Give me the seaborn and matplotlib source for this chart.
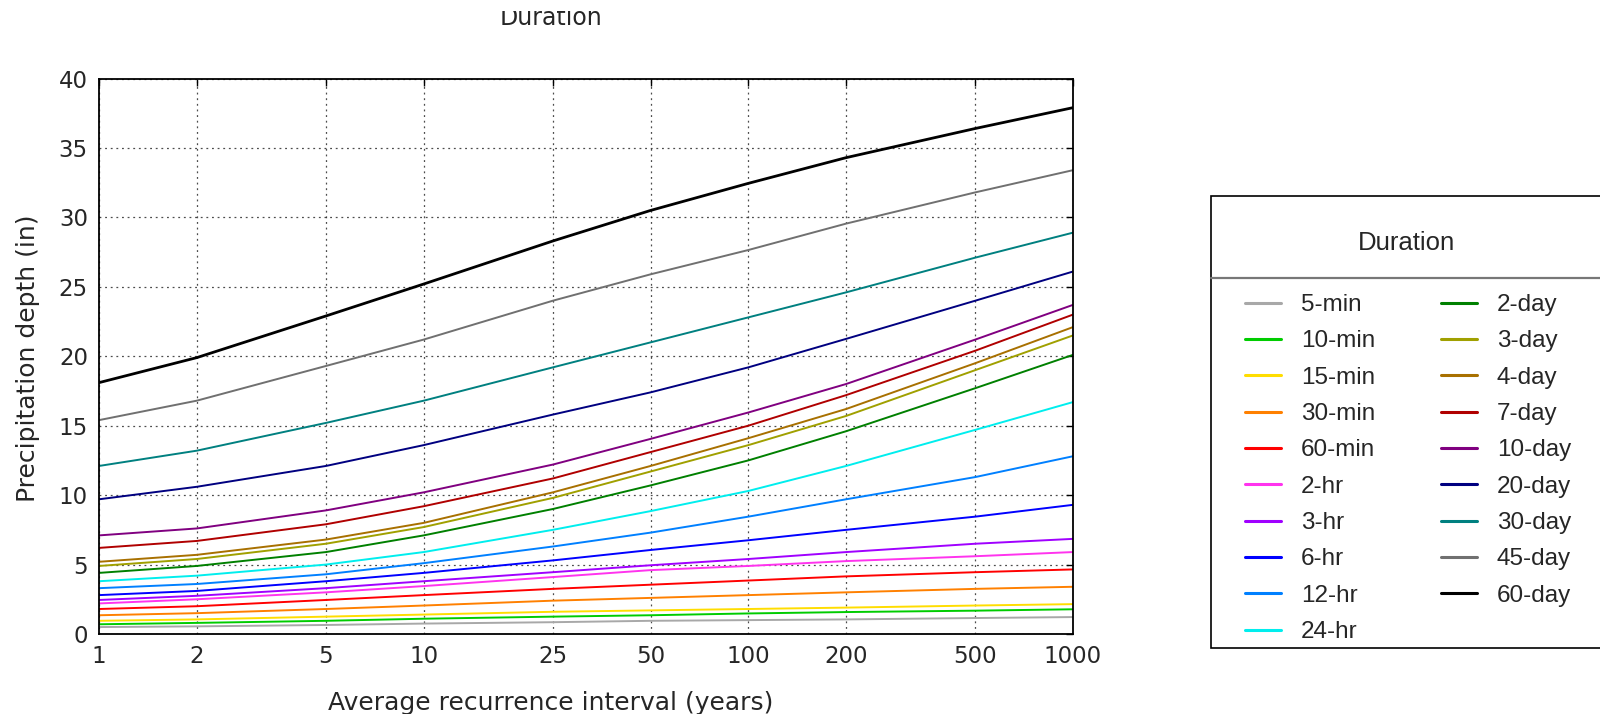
import numpy as np
import pandas as pd
import matplotlib
matplotlib.use("Agg")
import matplotlib.pyplot as plt
import seaborn as sns
from matplotlib.lines import Line2D
from matplotlib.patches import Rectangle
import matplotlib.ticker as ticker

# average recurrence interval (years)
ari = [1, 2, 5, 10, 25, 50, 100, 200, 500, 1000]
ari_labels = ["1", "2", "5", "10", "25", "50", "100", "200", "500", "1000"]

# precipitation depth (in) per duration
d_5min = [0.50, 0.55, 0.65, 0.75, 0.85, 0.95, 1.00, 1.05, 1.15, 1.22]
d_10min = [0.70, 0.80, 0.95, 1.10, 1.25, 1.35, 1.48, 1.58, 1.68, 1.78]
d_15min = [0.95, 1.05, 1.25, 1.40, 1.60, 1.70, 1.80, 1.90, 2.05, 2.15]
d_30min = [1.35, 1.50, 1.80, 2.05, 2.40, 2.60, 2.80, 3.00, 3.25, 3.40]
d_60min = [1.80, 2.00, 2.45, 2.80, 3.25, 3.55, 3.85, 4.15, 4.45, 4.65]
d_2hr = [2.20, 2.50, 3.00, 3.45, 4.10, 4.60, 4.90, 5.25, 5.60, 5.90]
d_3hr = [2.45, 2.75, 3.30, 3.80, 4.45, 4.95, 5.40, 5.90, 6.50, 6.85]
d_6hr = [2.80, 3.10, 3.80, 4.40, 5.30, 6.05, 6.75, 7.50, 8.45, 9.30]
d_12hr = [3.30, 3.60, 4.30, 5.10, 6.30, 7.30, 8.45, 9.70, 11.3, 12.8]
d_24hr = [3.80, 4.20, 5.00, 5.90, 7.50, 8.85, 10.3, 12.1, 14.7, 16.7]
d_2day = [4.40, 4.90, 5.90, 7.10, 9.00, 10.7, 12.5, 14.6, 17.7, 20.1]
d_3day = [4.90, 5.40, 6.50, 7.70, 9.80, 11.7, 13.6, 15.7, 19.0, 21.5]
d_4day = [5.20, 5.70, 6.80, 8.00, 10.2, 12.1, 14.1, 16.2, 19.5, 22.1]
d_7day = [6.20, 6.70, 7.90, 9.20, 11.2, 13.1, 15.0, 17.2, 20.4, 23.0]
d_10day = [7.10, 7.60, 8.90, 10.2, 12.2, 14.05, 15.95, 18.0, 21.2, 23.7]
d_20day = [9.70, 10.6, 12.1, 13.6, 15.8, 17.4, 19.2, 21.25, 24.0, 26.1]
d_30day = [12.1, 13.2, 15.2, 16.8, 19.2, 21.0, 22.8, 24.6, 27.1, 28.9]
d_45day = [15.4, 16.8, 19.3, 21.2, 24.0, 25.9, 27.65, 29.55, 31.8, 33.4]
d_60day = [18.1, 19.9, 22.9, 25.2, 28.3, 30.5, 32.45, 34.3, 36.4, 37.9]

durations = ["5-min", "10-min", "15-min", "30-min", "60-min", "2-hr", "3-hr",
             "6-hr", "12-hr", "24-hr", "2-day", "3-day", "4-day", "7-day",
             "10-day", "20-day", "30-day", "45-day", "60-day"]
series = [d_5min, d_10min, d_15min, d_30min, d_60min, d_2hr, d_3hr, d_6hr,
          d_12hr, d_24hr, d_2day, d_3day, d_4day, d_7day, d_10day, d_20day,
          d_30day, d_45day, d_60day]
colors = ["#a8a8a8", "#00cc00", "#ffdd00", "#ff8000", "#ff0000", "#ff33ee",
          "#a000ff", "#0000ff", "#0080ff", "#00eeee", "#008000", "#a0a000",
          "#a87000", "#b00000", "#800080", "#000080", "#008080", "#707070",
          "#000000"]
palette = dict(zip(durations, colors))

df = pd.DataFrame({
    "ari": np.tile(ari, len(durations)),
    "depth": np.concatenate(series),
    "duration": np.repeat(durations, len(ari)),
})

sns.set_style("white")
plt.rcParams["font.family"] = ["DejaVu Sans"]

W, H = 1600, 714
fig = plt.figure(figsize=(16, 7.14), dpi=100)
ax = fig.add_axes([99 / W, 1 - 634 / H, (1073 - 99) / W, (634 - 78.5) / H])

sns.lineplot(data=df, x="ari", y="depth", hue="duration", hue_order=durations,
             palette=palette, linewidth=1.4, legend=False, sort=False, ax=ax)
ax.lines[-1].set_linewidth(2.0)

ax.set_xscale("log")
ax.set_xlim(1, 1000)
ax.set_ylim(0, 40)
ax.set_xticks(ari)
ax.set_xticklabels(ari_labels)
ax.xaxis.set_minor_locator(ticker.NullLocator())
ax.set_yticks(range(0, 41, 5))
ax.tick_params(direction="in", top=True, right=True, length=5, width=1,
               labelsize=16.5, pad=8, color="black")
ax.grid(True, linestyle=(0, (1.5, 3)), color="black", linewidth=0.9, alpha=0.7)
for s in ax.spines.values():
    s.set_color("black")
    s.set_linewidth(1.3)
ax.set_xlabel("")
ax.set_ylabel("")

fig.text(28 / W, 1 - 358 / H, "Precipitation depth (in)", rotation=90,
         ha="center", va="center", fontsize=18)
fig.text(551 / W, 1 - 703 / H, "Average recurrence interval (years)",
         ha="center", va="center", fontsize=18)
fig.text(551 / W, 1 - 25 / H, "Duration", ha="center", va="baseline",
         fontsize=17)
# top of the picture is cropped in the reference
fig.add_artist(Rectangle((0, 1 - 11 / H), 1, 11 / H, transform=fig.transFigure,
                         facecolor="white", edgecolor="none", zorder=10))

# legend box
fig.add_artist(Rectangle((1211 / W, 1 - 648 / H), 420 / W, (648 - 196) / H,
                         transform=fig.transFigure, facecolor="white",
                         edgecolor="black", linewidth=1.2, clip_on=False))
fig.add_artist(Line2D([1211 / W, 1], [1 - 278 / H, 1 - 278 / H],
                      transform=fig.transFigure, color="#777777", linewidth=1.6))
fig.text(1406 / W, 1 - 243 / H, "Duration", ha="center", va="center",
         fontsize=18.5, family=["Liberation Sans"])

handles = [Line2D([], [], color=palette[d], linewidth=2.2) for d in durations]
leg = fig.legend(handles, durations, ncol=2, loc="upper left",
                 bbox_to_anchor=(1245 / W, 1 - 294 / H), frameon=False,
                 borderpad=0, borderaxespad=0, handlelength=1.5,
                 handletextpad=0.8, columnspacing=2.7, labelspacing=0.59,
                 prop={"family": ["Liberation Sans"], "size": 17.5})

fig.savefig("out.png", dpi=100, facecolor="white")
